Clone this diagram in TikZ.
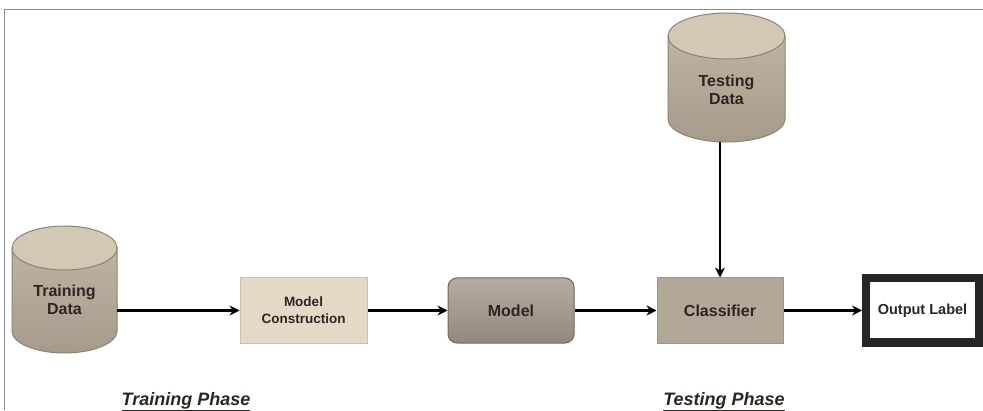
\documentclass[tikz,border=0pt]{standalone}
\usepackage{fontspec}
\setmainfont{Liberation Sans}
\usetikzlibrary{arrows.meta,shadings}
\definecolor{cylfill}{HTML}{BFB2A2}
\definecolor{cyltop}{HTML}{D3C7B6}
\definecolor{cyldark}{HTML}{A89B8C}
\definecolor{cylline}{HTML}{8C8276}
\definecolor{mcfill}{HTML}{E5D8C6}
\definecolor{mcline}{HTML}{CDBFAC}
\definecolor{modfill}{HTML}{A2988C}
\definecolor{modline}{HTML}{6F675E}
\definecolor{clsfill}{HTML}{B3A898}
\definecolor{clsline}{HTML}{A0958A}
\definecolor{txt}{HTML}{2B2622}
\definecolor{frame}{HTML}{8A8A8A}
\tikzset{
  lbl/.style={font=\bfseries\fontsize{16}{18}\selectfont, text=txt, align=center},
  procbox/.style={draw, line width=1pt, minimum width=126pt, minimum height=65pt, inner sep=0pt},
  flow/.style={line width=2.8pt, -{Stealth[length=10pt,width=10pt]}},
  phase/.style={font=\bfseries\itshape\fontsize{18}{20}\selectfont, text=txt, inner sep=0pt, anchor=base},
  cylbody/.style={draw=cylline, line width=1pt, bottom color=cyldark, top color=cylfill},
  cyllid/.style={draw=cylline, line width=1pt, fill=cyltop}
}
\begin{document}
\begin{tikzpicture}[x=1pt,y=1pt]
\useasboundingbox (0,0) rectangle (983,410);
% frame
\draw[frame, line width=1pt] (4,0) -- (4,400) -- (983,400);

% Training Data cylinder
\path[cylbody] (12,162) -- (12,79) arc[start angle=180,end angle=360,x radius=52.5,y radius=22] -- (117,162) -- cycle;
\path[cyllid] (64.5,162) ellipse[x radius=52.5,y radius=22];
\node[lbl, minimum width=105pt, minimum height=60pt, inner sep=0pt] (train) at (64.5,110) {Training\\Data};

% Testing Data cylinder
\path[cylbody] (668,374) -- (668,291) arc[start angle=180,end angle=360,x radius=58.5,y radius=23] -- (785,374) -- cycle;
\path[cyllid] (726.5,374) ellipse[x radius=58.5,y radius=23];
\node[lbl, minimum width=117pt, minimum height=40pt, inner sep=0pt] (test) at (726.5,320) {Testing\\Data};
\coordinate (testbot) at (720,268);

% boxes
\node[procbox, draw=mcline, fill=mcfill, minimum width=127pt, lbl, font=\bfseries\fontsize{13.5}{17}\selectfont] (mc) at (303.5,99.5) {Model\\Construction};
\node[procbox, draw=modline, rounded corners=9pt, top color=modfill!80!white, bottom color=modfill!90!black, lbl] (model) at (511,99.5) {Model};
\node[procbox, draw=clsline, fill=clsfill, lbl] (cls) at (720,99.5) {Classifier};
\node[draw=black!85, line width=8pt, minimum width=113pt, minimum height=64pt, inner sep=0pt, fill=white, lbl, font=\bfseries\fontsize{14.5}{16}\selectfont] (out) at (922.5,99.5) {Output Label};

% connectors
\draw[flow] (train.east |- mc.west) -- (mc.west);
\draw[flow] (mc.east) -- (model.west);
\draw[flow] (model.east) -- (cls.west);
\draw[flow] (cls.east) -- (out.west);
\draw[flow] (testbot) -- (cls.north);

% phase labels
\node[phase] (trph) at (186,5) {\underline{Training Phase}};
\node[phase] (teph) at (724,5) {\underline{Testing Phase}};
\end{tikzpicture}
\end{document}
